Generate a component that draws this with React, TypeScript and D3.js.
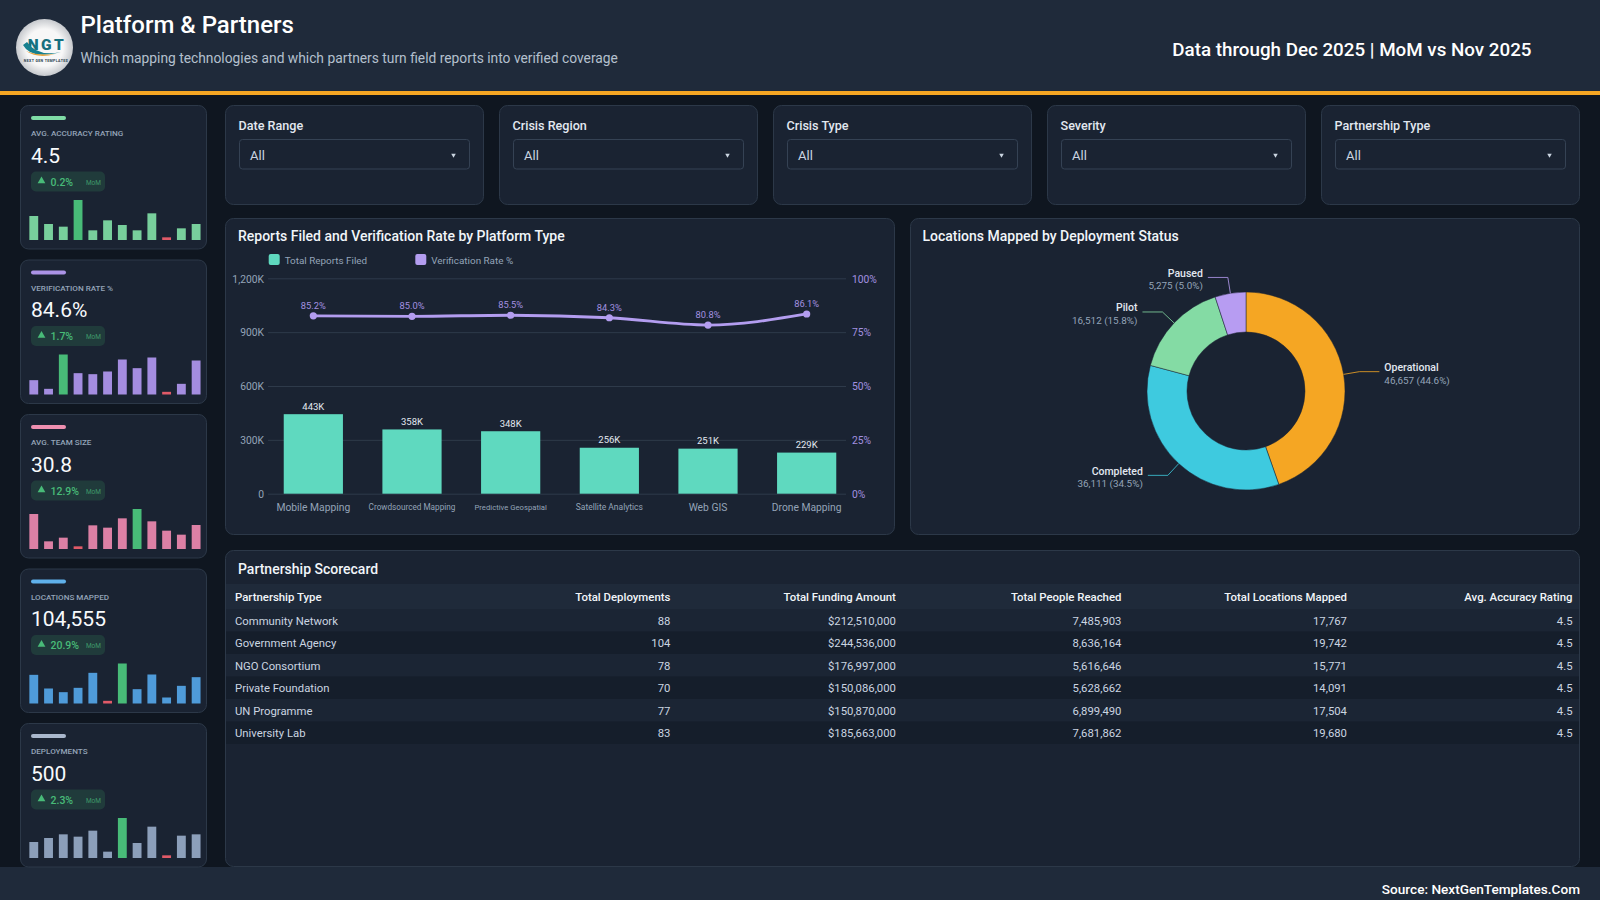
import * as d3 from "d3";
import { useEffect, useRef } from "react";

// Platform chart
const platforms = ["Mobile Mapping", "Crowdsourced Mapping", "Predictive Geospatial", "Satellite Analytics", "Web GIS", "Drone Mapping"];
const reportsFiled = [443000, 358000, 348000, 256000, 251000, 229000];
const verificationRate = [85.2, 85.0, 85.5, 84.3, 80.8, 86.1];
const reportTicks = [0, 300000, 600000, 900000, 1200000];
const rateTicks = ["100%", "75%", "50%", "25%", "0%"];

// Donut
const statuses = ["Operational", "Completed", "Pilot", "Paused"];
const statusLocations = [46657, 36111, 16512, 5275];
const statusShares = ["44.6%", "34.5%", "15.8%", "5.0%"];

// Filters
const filterNames = ["Date Range", "Crisis Region", "Crisis Type", "Severity", "Partnership Type"];

// KPI cards
const kpiLabels = ["AVG. ACCURACY RATING", "VERIFICATION RATE %", "AVG. TEAM SIZE", "LOCATIONS MAPPED", "DEPLOYMENTS"];
const kpiValues = ["4.5", "84.6%", "30.8", "104,555", "500"];
const kpiDeltas = ["0.2%", "1.7%", "12.9%", "20.9%", "2.3%"];
const sparkAccuracy = [72, 48, 40, 120, 29, 59, 45, 29, 80, 8, 35, 48];
const sparkVerification = [43, 17, 120, 64, 61, 69, 105, 79, 111, 8, 32, 102];
const sparkTeam = [105, 23, 34, 8, 71, 64, 92, 120, 83, 55, 43, 72];
const sparkLocations = [86, 45, 34, 47, 92, 8, 120, 43, 87, 18, 53, 79];
const sparkDeployments = [48, 60, 71, 64, 82, 19, 120, 45, 94, 8, 67, 71];
const sparks = [sparkAccuracy, sparkVerification, sparkTeam, sparkLocations, sparkDeployments];

// Scorecard
const scoreHeaders = ["Partnership Type", "Total Deployments", "Total Funding Amount", "Total People Reached", "Total Locations Mapped", "Avg. Accuracy Rating"];
const partnerships = ["Community Network", "Government Agency", "NGO Consortium", "Private Foundation", "UN Programme", "University Lab"];
const deployments = [88, 104, 78, 70, 77, 83];
const funding = [212510000, 244536000, 176997000, 150086000, 150870000, 185663000];
const peopleReached = [7485903, 8636164, 5616646, 5628662, 6899490, 7681862];
const locationsMapped = [17767, 19742, 15771, 14091, 17504, 19680];
const accuracy = [4.5, 4.5, 4.5, 4.5, 4.5, 4.5];

const FONT = "Roboto, 'Noto Sans', sans-serif";
const CARD = "#1a2332";
const BORDER = "#2c3848";
const GRID = "#2e3a4a";
const PANEL = "#1f2a3a";
const MUTED = "#94a3b8";
const PURPLE = "#b39df0";
const TEAL = "#5fd9bf";
const kpiAccent = ["#7fdca6", "#ab93e6", "#ee8fb0", "#5fb0ea", "#a9b7cc"];
const kpiBar = ["#78cf9c", "#a48de0", "#dc80a5", "#4f9bd9", "#8c9fba"];
const donutColors = ["#f5a623", "#3ecadf", "#84dba4", "#b79cf2"];

export default function App() {
  const ref = useRef<SVGSVGElement | null>(null);

  useEffect(() => {
    const svg = d3.select(ref.current);
    svg.selectAll("*").remove();
    svg.attr("font-family", FONT);

    const text = (
      parent: any,
      x: number,
      y: number,
      s: string,
      size: number,
      fill: string,
      weight = 400,
      anchor = "start"
    ) =>
      parent
        .append("text")
        .attr("x", x)
        .attr("y", y)
        .attr("dy", "0.35em")
        .attr("font-size", size)
        .attr("font-weight", weight)
        .attr("text-anchor", anchor)
        .attr("fill", fill)
        .text(s);

    const card = (x: number, y: number, w: number, h: number) =>
      svg
        .append("rect")
        .attr("x", x + 0.5)
        .attr("y", y + 0.5)
        .attr("width", w - 1)
        .attr("height", h - 1)
        .attr("rx", 8)
        .attr("fill", CARD)
        .attr("stroke", BORDER);

    // Page
    svg.append("rect").attr("width", 1600).attr("height", 900).attr("fill", "#0f1620");
    svg.append("rect").attr("width", 1600).attr("height", 91).attr("fill", PANEL);
    svg.append("rect").attr("y", 91).attr("width", 1600).attr("height", 4).attr("fill", "#f5a623");
    svg.append("rect").attr("y", 867).attr("width", 1600).attr("height", 33).attr("fill", PANEL);

    // Logo
    const logo = svg.append("g");
    const logoFill = svg.append("defs").append("radialGradient").attr("id", "logoFill");
    logoFill.append("stop").attr("offset", "65%").attr("stop-color", "#f7f7f7");
    logoFill.append("stop").attr("offset", "100%").attr("stop-color", "#c6c9cd");
    logo.append("circle").attr("cx", 44.5).attr("cy", 47.5).attr("r", 28.5).attr("fill", "url(#logoFill)");
    text(logo, 47, 45, "NGT", 15.5, "#17707f", 900, "middle").attr("letter-spacing", 2.5);
    logo.append("path").attr("d", "M23 45 Q31 60 61 52 Q37 57 27 42Z").attr("fill", "#17808f");
    logo.append("path").attr("d", "M26 51 Q38 59 55 54 Q38 56 26 51Z").attr("fill", "#e8a33d");
    text(logo, 46, 61, "NEXT GEN TEMPLATES", 3.6, "#1e3a4a", 700, "middle").attr("letter-spacing", 0.35);

    // Header
    text(svg, 80.5, 25, "Platform & Partners", 24, "#ffffff", 500);
    text(svg, 80.5, 58.5, "Which mapping technologies and which partners turn field reports into verified coverage", 13.8, "#b4c0ce");
    text(svg, 1531.5, 49.5, "Data through Dec 2025 | MoM vs Nov 2025", 18.8, "#ffffff", 500, "end");
    text(svg, 1580, 889.5, "Source: NextGenTemplates.Com", 13.6, "#ffffff", 500, "end");

    // KPI cards
    const sparkX = d3
      .scaleBand<number>()
      .domain(d3.range(12))
      .range([26.4, 203.5])
      .paddingInner(0.4)
      .paddingOuter(0.2);
    const sparkH = d3.scaleLinear().domain([0, 120]).range([0, 40]);

    kpiLabels.forEach((label, i) => {
      const top = 105 + i * 154.5;
      card(20, top, 187, 144.5);
      svg.append("rect").attr("x", 31).attr("y", top + 11).attr("width", 35).attr("height", 4).attr("rx", 2).attr("fill", kpiAccent[i]);
      text(svg, 31, top + 28.2, label, 8.1, MUTED, 500);
      text(svg, 31, top + 50.5, kpiValues[i], 21, "#f8fafc", 400);
      svg.append("rect").attr("x", 31).attr("y", top + 66.5).attr("width", 74).attr("height", 20).attr("rx", 5).attr("fill", "#203b3b");
      svg
        .append("path")
        .attr("d", d3.symbol(d3.symbolTriangle, 26)())
        .attr("transform", `translate(41.5,${top + 76})`)
        .attr("fill", "#48bb78");
      text(svg, 50.5, top + 77, kpiDeltas[i], 10.5, "#48bb78", 500);
      text(svg, 101, top + 77.5, "MoM", 6.5, "#3f9a6a", 400, "end");

      const values = sparks[i];
      const hi = d3.max(values);
      const lo = d3.min(values);
      svg
        .append("g")
        .selectAll("rect")
        .data(values)
        .join("rect")
        .attr("x", (_, j) => sparkX(j)!)
        .attr("y", (d) => top + 135 - sparkH(d))
        .attr("width", sparkX.bandwidth())
        .attr("height", (d) => sparkH(d))
        .attr("fill", (d) => (d === hi ? "#48bb78" : d === lo ? "#e05a68" : kpiBar[i]));
    });

    // Filters
    filterNames.forEach((name, i) => {
      const x = 225 + i * 274;
      card(x, 105, 259, 100);
      text(svg, x + 13.5, 125.3, name, 12.6, "#e2e8f0", 500);
      svg
        .append("rect")
        .attr("x", x + 14.5)
        .attr("y", 139.5)
        .attr("width", 230)
        .attr("height", 29.5)
        .attr("rx", 3)
        .attr("fill", "#1a2332")
        .attr("stroke", "#354254");
      text(svg, x + 25, 155.3, "All", 13, "#cbd5e1");
      svg
        .append("path")
        .attr("d", d3.symbol(d3.symbolTriangle, 9)())
        .attr("transform", `translate(${x + 228.5},155) rotate(180)`)
        .attr("fill", "#cbd5e1");
    });

    // Combo chart
    card(225, 218, 670, 317);
    text(svg, 238, 236.5, "Reports Filed and Verification Rate by Platform Type", 14, "#f1f5f9", 500);

    [
      { x: 268.7, label: "Total Reports Filed", color: TEAL },
      { x: 415.3, label: "Verification Rate %", color: PURPLE },
    ].forEach((l) => {
      svg.append("rect").attr("x", l.x).attr("y", 254).attr("width", 11).attr("height", 11).attr("rx", 2).attr("fill", l.color);
      text(svg, l.x + 16, 260.3, l.label, 9.9, MUTED);
    });

    const plotTop = 278.3;
    const plotBottom = 493.7;
    const x = d3.scaleBand().domain(platforms).range([264, 856]).paddingInner(0.4).paddingOuter(0.2);
    const y = d3.scaleLinear().domain([0, 1200000]).range([plotBottom, plotTop]);
    // the drawn line sits on a slightly longer scale than the labelled 0-100% axis
    const yRate = d3.scaleLinear().domain([0, 103.2]).range([plotBottom, plotTop]);
    const yRateLabels = d3.scalePoint().domain(rateTicks).range([plotTop, plotBottom]);

    const leftAxis = svg
      .append("g")
      .attr("transform", "translate(268,0)")
      .call(
        d3
          .axisLeft(y)
          .tickValues(reportTicks)
          .tickSize(-578)
          .tickPadding(4)
          .tickFormat((d) => (+d === 0 ? "0" : `${d3.format(",")(+d / 1000)}K`))
      );
    leftAxis.select(".domain").remove();
    leftAxis.selectAll("line").attr("stroke", GRID);
    leftAxis.selectAll("text").attr("fill", MUTED).attr("font-size", 10.3).attr("font-family", FONT).attr("dy", "0.36em");

    const rightAxis = svg
      .append("g")
      .attr("transform", "translate(846,0)")
      .call(d3.axisRight(yRateLabels).tickSize(0).tickPadding(6));
    rightAxis.select(".domain").remove();
    rightAxis.selectAll("text").attr("fill", "#a391e0").attr("font-size", 10.3).attr("font-family", FONT).attr("dy", "0.36em");

    const plot = svg.append("g");
    plot
      .selectAll("rect")
      .data(reportsFiled)
      .join("rect")
      .attr("x", (_, i) => x(platforms[i])!)
      .attr("y", (d) => y(d))
      .attr("width", x.bandwidth())
      .attr("height", (d) => y(0) - y(d))
      .attr("fill", TEAL);
    reportsFiled.forEach((d, i) => {
      text(svg, x(platforms[i])! + x.bandwidth() / 2, y(d) - 8, `${Math.round(d / 1000)}K`, 9.5, "#e2e8f0", 400, "middle");
    });

    const line = d3
      .line<number>()
      .x((_, i) => x(platforms[i])! + x.bandwidth() / 2)
      .y((d) => yRate(d))
      .curve(d3.curveMonotoneX);
    svg.append("path").attr("d", line(verificationRate)).attr("fill", "none").attr("stroke", PURPLE).attr("stroke-width", 2.8);
    verificationRate.forEach((d, i) => {
      const cx = x(platforms[i])! + x.bandwidth() / 2;
      svg.append("circle").attr("cx", cx).attr("cy", yRate(d)).attr("r", 3.6).attr("fill", PURPLE);
      text(svg, cx, yRate(d) - 10.5, `${d.toFixed(1)}%`, 9.3, "#a391e0", 400, "middle");
    });

    platforms.forEach((name) => {
      // long names get squeezed to fit their band
      const size = name.length > 20 ? 7.7 : name.length > 19 ? 8.2 : name.length > 18 ? 8.5 : 10.3;
      text(svg, x(name)! + x.bandwidth() / 2, 507, name, size, MUTED, 400, "middle");
    });

    // Donut
    card(910, 218, 670, 317);
    text(svg, 922.5, 236.5, "Locations Mapped by Deployment Status", 14, "#f1f5f9", 500);

    const pieData = d3.pie<number>().sort(null)(statusLocations);
    const arc = d3.arc<d3.PieArcDatum<number>>().innerRadius(59).outerRadius(99);
    const donut = svg.append("g").attr("transform", "translate(1246,391)");
    donut
      .selectAll("path")
      .data(pieData)
      .join("path")
      .attr("d", arc)
      .attr("fill", (_, i) => donutColors[i])
      .attr("stroke", CARD)
      .attr("stroke-width", 0.5);

    const elbow = d3.arc<d3.PieArcDatum<number>>().innerRadius(115).outerRadius(115);
    const rim = d3.arc<d3.PieArcDatum<number>>().innerRadius(99).outerRadius(99);
    pieData.forEach((d, i) => {
      const a = rim.centroid(d);
      const b = elbow.centroid(d);
      const right = a[0] > 0;
      const endX = b[0] + (right ? 20 : -20);
      donut
        .append("path")
        .attr("d", d3.line()([a, b, [endX, b[1]]]))
        .attr("fill", "none")
        .attr("stroke", donutColors[i])
        .attr("stroke-opacity", 0.8);
      const labelX = endX + (right ? 5 : -5);
      const anchor = right ? "start" : "end";
      text(donut, labelX, b[1] - 4.5, statuses[i], 10.5, "#e2e8f0", 500, anchor);
      text(donut, labelX, b[1] + 8.5, `${d3.format(",")(statusLocations[i])} (${statusShares[i]})`, 9.9, MUTED, 400, anchor);
    });

    // Scorecard
    card(225, 550, 1355, 317);
    text(svg, 238, 568.7, "Partnership Scorecard", 14, "#f1f5f9", 500);

    const columns = d3.scalePoint().domain(scoreHeaders.slice(1)).range([670.4, 1572.5]);
    const rowY = d3.scaleBand().domain(partnerships).range([609, 744]);

    svg.append("rect").attr("x", 226).attr("y", 584).attr("width", 1353).attr("height", 25).attr("fill", PANEL);
    text(svg, 235, 597, scoreHeaders[0], 11.4, "#f1f5f9", 500);
    scoreHeaders.slice(1).forEach((h) => {
      text(svg, columns(h)!, 597, h, 11.4, "#f1f5f9", 500, "end");
    });

    const fmtInt = d3.format(",");
    const rowCells = (i: number) => [
      String(deployments[i]),
      `$${fmtInt(funding[i])}`,
      fmtInt(peopleReached[i]),
      fmtInt(locationsMapped[i]),
      accuracy[i].toFixed(1),
    ];
    partnerships.forEach((name, i) => {
      svg
        .append("rect")
        .attr("x", 226)
        .attr("y", rowY(name)!)
        .attr("width", 1353)
        .attr("height", rowY.bandwidth())
        .attr("fill", i % 2 ? "#151e2b" : "#1b2534");
      const cy = rowY(name)! + rowY.bandwidth() / 2 + 0.3;
      text(svg, 235, cy, name, 11.3, "#cbd5e1");
      rowCells(i).forEach((c, k) => {
        text(svg, columns(scoreHeaders[k + 1])!, cy, c, 11.3, "#cbd5e1", 400, "end");
      });
    });
  }, []);

  return <svg ref={ref} width={1600} height={900} style={{ position: "absolute", left: 0, top: 0, display: "block" }} />;
}
